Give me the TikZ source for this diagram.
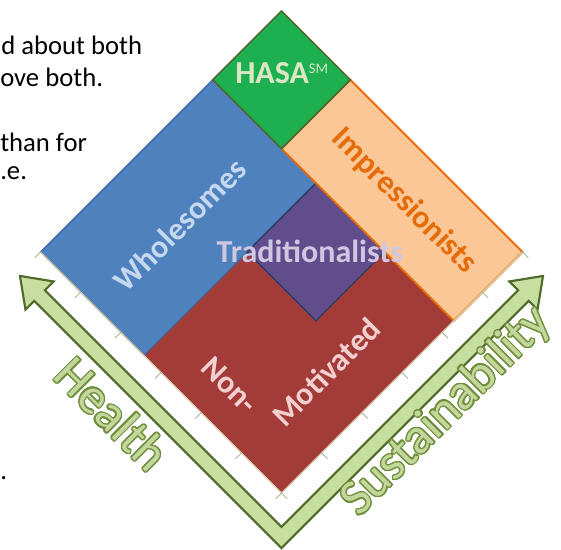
\documentclass[tikz,border=0pt]{standalone}
\usepackage{fontspec}
\setmainfont{Carlito}
\usepackage{contour}
\contourlength{0.9pt}
\contournumber{24}

\definecolor{wblue}{HTML}{4F81BD}
\definecolor{wblueedge}{HTML}{3D6BA6}
\definecolor{hgreen}{HTML}{1EB050}
\definecolor{hgreenedge}{HTML}{4E6B30}
\definecolor{iorange}{HTML}{FCC796}
\definecolor{iorangeedge}{HTML}{E46C0A}
\definecolor{nred}{HTML}{A33B38}
\definecolor{tpurple}{HTML}{624D8C}
\definecolor{tpurpleedge}{HTML}{303A66}
\definecolor{arrowfill}{HTML}{C7DEA0}
\definecolor{arrowedge}{HTML}{4F6B2A}
\definecolor{axiscol}{HTML}{D6CBAA}
\definecolor{tickcol}{HTML}{A9B992}
\definecolor{hasatext}{HTML}{DAE6C4}
\definecolor{wholetext}{HTML}{C5D8F0}
\definecolor{tradtext}{HTML}{CFC6E2}
\definecolor{nmtext}{HTML}{F4CFCF}
\definecolor{axistext}{HTML}{C3D69B}
\definecolor{axistextedge}{HTML}{6F8F3A}

\tikzset{
  region/.style={line width=1pt, line join=miter},
  sidetext/.style={font=\fontsize{20}{24}\selectfont, text=black, inner sep=0pt, anchor=base west},
  grouplabel/.style={font=\fontsize{24}{28}\selectfont\bfseries, inner sep=0pt},
  axislabel/.style={font=\fontsize{38}{42}\selectfont, text=axistext, inner sep=0pt},
  axisrule/.style={draw=axiscol, line width=0.8pt},
  tickmark/.style={draw=tickcol, line width=0.7pt},
  bigarrow/.style={fill=arrowfill, draw=arrowedge, line width=1.6pt, line join=miter}
}

\begin{document}
\begin{tikzpicture}[x=0.75pt,y=0.75pt]
\useasboundingbox (0,0) rectangle (561,550);
\begin{scope}
\clip (0,0) rectangle (561,550);

% text fragments running in from the left
\node[sidetext] (s1) at (1,495) {d about both};
\node[sidetext] (s2) at (0,463) {ove both.};
\node[sidetext] (s3) at (0,398) {than for};
\node[sidetext] (s4) at (0,370) {.e.};
\node[sidetext] (s5) at (0,70) {.};

% the segment square, drawn on a 7 x 7 grid turned by 45 degrees
\begin{scope}[shift={(281.5,57)}, rotate=45, scale=48.69]
  % double-headed V arrow along the two lower sides
  \draw[bigarrow]
    (-0.646,6.95) -- (-0.236,6.38) -- (-0.492,6.38) -- (-0.492,-0.492)
    -- (6.38,-0.492) -- (6.38,-0.236) -- (6.95,-0.646) -- (6.38,-1.056)
    -- (6.38,-0.8) -- (-0.8,-0.8) -- (-0.8,6.38) -- (-1.056,6.38) -- cycle;

  % segments
  \fill[nred] (0,0) rectangle (5,4);
  \draw[region, fill=wblue, draw=wblueedge] (0,4) rectangle (5,7);
  \draw[region, fill=tpurple, draw=tpurpleedge] (3,2) rectangle (5,4);
  \draw[region, fill=iorange, draw=iorangeedge, line width=1.4pt] (5,0) rectangle (7,5);
  \draw[region, fill=hgreen, draw=hgreenedge, line width=1.3pt] (5,5) rectangle (7,7);

  % axes with tick marks
  \draw[axisrule] (0,7) -- (0,0) -- (7,0);
  \foreach \k in {0,...,6} {
    \draw[tickmark] (0,\k*7/6) -- ++(-0.17,0);
    \draw[tickmark] (\k*7/6,0) -- ++(0,-0.17);
  }
\end{scope}

% segment names
\node[grouplabel, text=hasatext, anchor=base west] (hasa) at (235,466)
  {HASA\raisebox{8pt}{\fontsize{11}{11}\selectfont\mdseries SM}};
\node[grouplabel, text=wholetext, rotate=45] (whole) at (180,325) {Wholesomes};
\node[grouplabel, text=iorangeedge, rotate=-45] (impr) at (404,349) {Impressionists};
\node[grouplabel, text=tradtext] (trad) at (310,299) {Traditionalists};
\node[grouplabel, text=nmtext, rotate=-45] (non) at (230,165) {Non-};
\node[grouplabel, text=nmtext, rotate=45] (motiv) at (326,178) {Motivated};

% axis names, outlined in dark green
\node[axislabel, rotate=-45] (health) at (112,136) {\contour{axistextedge}{Health}};
\node[axislabel, rotate=45] (sust) at (447,138) {\contour{axistextedge}{Sustainability}};
\end{scope}
\end{tikzpicture}
\end{document}
